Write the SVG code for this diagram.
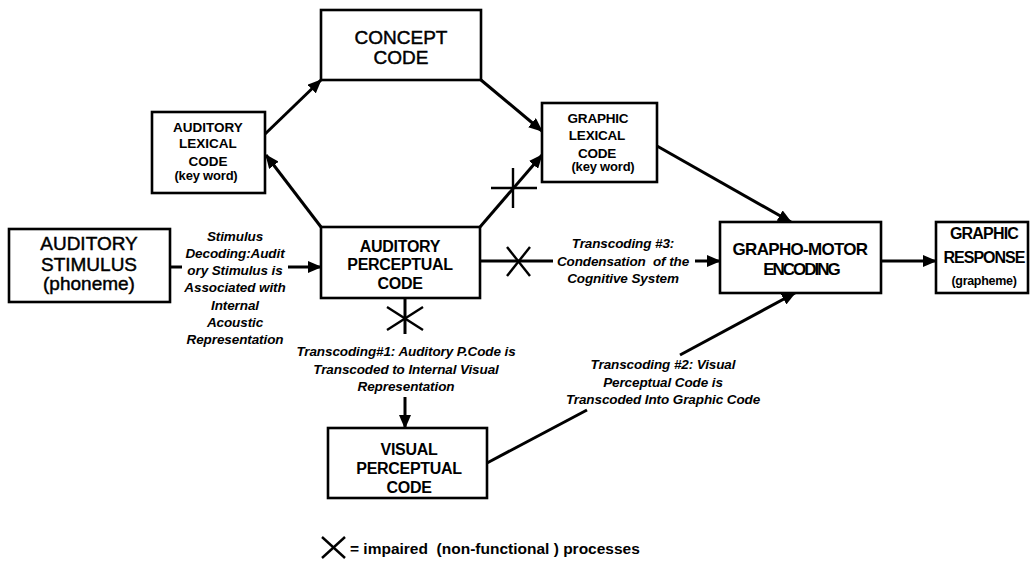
<svg xmlns="http://www.w3.org/2000/svg" width="1031" height="566" viewBox="0 0 1031 566">
<defs>
<marker id="ah" markerUnits="userSpaceOnUse" markerWidth="14" markerHeight="12" refX="13" refY="6" orient="auto">
<path d="M0,0 L14,6 L0,12 z" fill="#000"/>
</marker>
<style>
.box{fill:#fff;stroke:#000;stroke-width:2.6}
.ln{fill:none;stroke:#000;stroke-width:3}
.arr{fill:none;stroke:#000;stroke-width:3;marker-end:url(#ah)}
.x{fill:none;stroke:#000;stroke-width:2.4}
text{font-family:"Liberation Sans",Arial,sans-serif;fill:#000;text-anchor:middle;white-space:pre}
.big{font-size:19px;stroke:#000;stroke-width:0.45}
.b{font-weight:bold}
.lbl{font-size:13.5px;font-weight:bold;font-style:italic;letter-spacing:-0.1px}
</style>
</defs>
<rect width="1031" height="566" fill="#fff"/>
<g id="connectors">
<line class="arr" x1="264" y1="135" x2="321" y2="80"/>
<line class="arr" x1="481" y1="80" x2="542" y2="131"/>
<line class="arr" x1="321" y1="227" x2="266" y2="155"/>
<line class="arr" x1="480" y1="227" x2="542" y2="155"/>
<line class="x" x1="491" y1="188" x2="537" y2="188"/>
<line class="x" x1="513" y1="168" x2="513" y2="208"/>
<line class="arr" x1="657" y1="146" x2="791" y2="222"/>
<line class="ln" x1="171" y1="267" x2="182" y2="267"/>
<line class="arr" x1="288" y1="267" x2="321" y2="267"/>
<line class="ln" x1="480" y1="261" x2="553" y2="261"/>
<line class="x" x1="507" y1="247" x2="530" y2="276"/>
<line class="x" x1="507" y1="276" x2="530" y2="247"/>
<line class="arr" x1="695" y1="261" x2="720" y2="261"/>
<line class="ln" x1="405" y1="298" x2="405" y2="334"/>
<line class="x" x1="387" y1="307" x2="423" y2="330"/>
<line class="x" x1="387" y1="330" x2="423" y2="307"/>
<line class="arr" x1="405" y1="397" x2="405" y2="428"/>
<line class="ln" x1="487" y1="463" x2="587" y2="410"/>
<line class="arr" x1="680" y1="355" x2="795" y2="293"/>
<line class="arr" x1="881" y1="261" x2="936" y2="261"/>
</g>
<g id="concept-code">
<rect class="box" x="321" y="10" width="160" height="70"/>
<text class="big" x="401" y="44">CONCEPT</text>
<text class="big" x="401" y="64">CODE</text>
</g>
<g id="auditory-lexical-code">
<rect class="box" x="152" y="112" width="113" height="81"/>
<text class="b" font-size="13.5" x="208" y="132">AUDITORY</text>
<text class="b" font-size="13.5" x="208" y="148">LEXICAL</text>
<text class="b" font-size="13.5" x="208" y="166">CODE</text>
<text class="b" font-size="13" letter-spacing="-0.2" x="206" y="180">(key word)</text>
</g>
<g id="graphic-lexical-code">
<rect class="box" x="542" y="103" width="115" height="79"/>
<text class="b" font-size="13.5" letter-spacing="-0.2" x="598" y="123">GRAPHIC</text>
<text class="b" font-size="13.5" letter-spacing="-0.2" x="597" y="140">LEXICAL</text>
<text class="b" font-size="13.5" letter-spacing="-0.2" x="597" y="158">CODE</text>
<text class="b" font-size="13" letter-spacing="-0.2" x="603" y="171">(key word)</text>
</g>
<g id="auditory-stimulus">
<rect class="box" x="9" y="229" width="161" height="73"/>
<text class="big" x="89" y="250">AUDITORY</text>
<text class="big" x="89" y="271">STIMULUS</text>
<text class="big" x="89" y="290">(phoneme)</text>
</g>
<g id="auditory-perceptual-code">
<rect class="box" x="321" y="227" width="159" height="71"/>
<text class="b" font-size="16" letter-spacing="-0.3" x="400" y="252">AUDITORY</text>
<text class="b" font-size="16" letter-spacing="-0.3" x="400" y="270">PERCEPTUAL</text>
<text class="b" font-size="16" letter-spacing="-0.3" x="400" y="289">CODE</text>
</g>
<g id="grapho-motor-encoding">
<rect class="box" x="720" y="222" width="161" height="71"/>
<text class="b" font-size="17" letter-spacing="-0.7" x="800" y="255">GRAPHO-MOTOR</text>
<text class="b" font-size="17" letter-spacing="-2" x="801" y="275">ENCODING</text>
</g>
<g id="graphic-response">
<rect class="box" x="936" y="222" width="92" height="71"/>
<text class="b" font-size="16" letter-spacing="-0.8" x="984" y="239">GRAPHIC</text>
<text class="b" font-size="16" letter-spacing="-1" x="984" y="263">RESPONSE</text>
<text class="b" font-size="12.5" letter-spacing="-0.3" x="984" y="285">(grapheme)</text>
</g>
<g id="visual-perceptual-code">
<rect class="box" x="328" y="428" width="159" height="70"/>
<text class="b" font-size="16" letter-spacing="-0.3" x="409" y="455">VISUAL</text>
<text class="b" font-size="16" letter-spacing="-0.3" x="409" y="474">PERCEPTUAL</text>
<text class="b" font-size="16" letter-spacing="-0.3" x="409" y="493">CODE</text>
</g>
<g id="labels">
<text class="lbl" x="235" y="241">Stimulus</text>
<text class="lbl" x="235" y="258">Decoding:Audit</text>
<text class="lbl" x="235" y="275">ory Stimulus is</text>
<text class="lbl" x="235" y="292">Associated with</text>
<text class="lbl" x="235" y="310">Internal</text>
<text class="lbl" x="235" y="327">Acoustic</text>
<text class="lbl" x="235" y="344">Representation</text>
<text class="lbl" x="623" y="248">Transcoding #3:</text>
<text class="lbl" x="623" y="266">Condensation  of the</text>
<text class="lbl" x="623" y="283">Cognitive System</text>
<text class="lbl" x="406" y="356">Transcoding#1: Auditory P.Code is</text>
<text class="lbl" x="406" y="374">Transcoded to Internal Visual</text>
<text class="lbl" x="406" y="391">Representation</text>
<text class="lbl" x="663" y="369">Transcoding #2: Visual</text>
<text class="lbl" x="663" y="387">Perceptual Code is</text>
<text class="lbl" x="663" y="404">Transcoded Into Graphic Code</text>
</g>
<g id="legend">
<line class="x" x1="322" y1="537" x2="345" y2="558"/>
<line class="x" x1="322" y1="558" x2="345" y2="537"/>
<text class="b" font-size="15.5" x="350" y="554" style="text-anchor:start">= impaired  (non-functional ) processes</text>
</g>
</svg>
